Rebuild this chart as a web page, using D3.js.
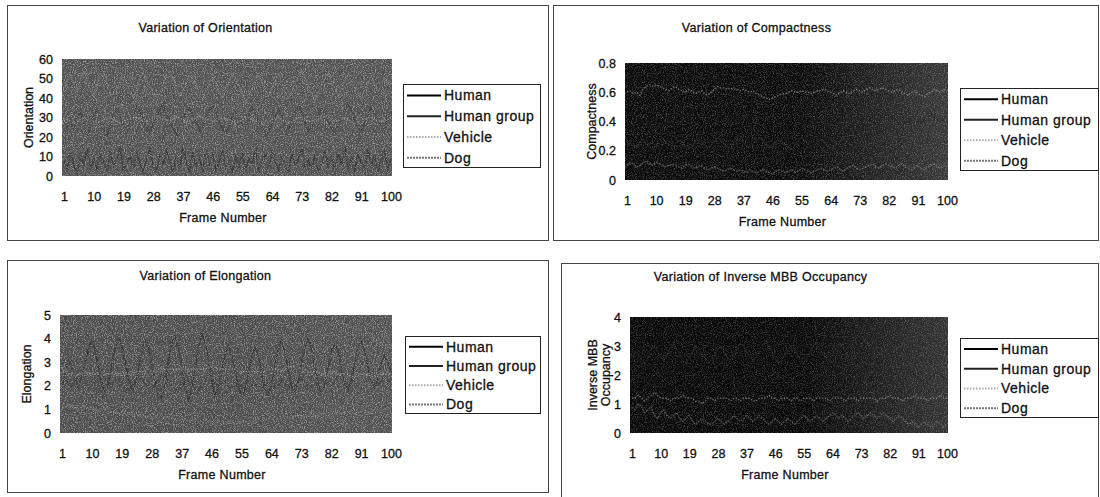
<!DOCTYPE html>
<html>
<head>
<meta charset="utf-8">
<script src="https://cdn.jsdelivr.net/npm/d3@7"></script>
<style>
  body { margin: 0; background: #fff; }
  svg { display: block; font-family: "Liberation Sans", Arial, sans-serif; }
  text { fill: #111; stroke: #111; stroke-width: 0.3px; }
</style>
</head>
<body>
<div id="chart"></div>
<script>
// ---- data ----
const frames = d3.range(1, 101);
const xTickLabels = [1, 10, 19, 28, 37, 46, 55, 64, 73, 82, 91, 100];
const seriesNames = ["Human", "Human group", "Vehicle", "Dog"];

const orientHuman = [8,3,12,5,2,10,6,14,4,9, 3,11,7,2,13,5,8,15,3,6, 10,4,12,7,2,9,14,5,3,11, 6,13,8,2,10,4,15,7,3,12, 5,9,2,14,6,11,3,8,13,4, 7,2,10,5,12,3,9,6,14,2, 8,11,4,13,7,3,10,5,2,12, 6,9,14,3,8,4,11,2,7,13, 5,10,3,12,6,15,4,9,2,11, 7,3,14,5,10,2,8,13,4,9];
const orientGroup = [22,25,28,24,30,33,27,21,26,31, 34,29,24,20,27,32,35,30,26,23, 28,31,36,33,29,25,22,27,30,34, 37,32,28,24,21,26,29,33,35,31, 27,23,25,30,34,36,32,28,24,22, 26,31,33,29,27,24,30,35,32,28, 25,21,23,27,31,34,30,26,24,29, 33,36,32,27,23,25,29,31,35,33, 28,24,22,26,30,34,37,33,29,25, 23,27,31,35,32,28,26,24,30,33];
const orientVehicle = [28,29,28,27,28,29,30,29,28,28, 27,28,29,29,30,29,28,27,28,29, 29,30,30,29,28,28,29,30,31,30, 29,29,28,29,30,30,29,28,28,29, 30,31,30,29,29,28,28,29,30,29, 29,28,27,28,29,30,30,29,28,28, 27,27,28,29,29,30,29,28,27,28, 29,30,30,29,28,28,29,29,30,31, 30,29,28,28,29,30,29,28,27,28, 29,29,30,30,29,28,28,29,29,30];
const orientDog = [45,48,52,47,43,50,54,49,44,41, 46,51,53,48,42,39,44,49,52,47, 43,40,45,50,53,49,46,42,38,43, 47,51,54,50,45,41,44,48,52,49, 46,42,39,44,48,51,47,43,40,45, 49,53,50,46,42,38,41,46,50,52, 48,44,41,45,49,52,48,43,40,44, 47,51,54,50,46,42,39,43,47,50, 53,49,45,41,44,48,52,49,45,42, 40,44,48,51,47,43,46,50,48,45];

const compHuman = [0.42,0.40,0.38,0.41,0.44,0.43,0.40,0.37,0.39,0.42, 0.45,0.43,0.41,0.39,0.40,0.43,0.46,0.44,0.41,0.38, 0.40,0.42,0.44,0.43,0.40,0.38,0.37,0.39,0.42,0.44, 0.45,0.43,0.40,0.38,0.39,0.41,0.43,0.45,0.44,0.42, 0.39,0.37,0.38,0.41,0.43,0.44,0.42,0.40,0.38,0.39, 0.42,0.44,0.46,0.44,0.41,0.39,0.38,0.40,0.42,0.43, 0.41,0.39,0.37,0.38,0.40,0.43,0.45,0.44,0.42,0.40, 0.38,0.39,0.41,0.43,0.44,0.42,0.40,0.39,0.41,0.43, 0.45,0.44,0.42,0.40,0.38,0.37,0.39,0.41,0.43,0.42, 0.40,0.39,0.41,0.43,0.45,0.43,0.41,0.40,0.42,0.44];
const compGroup = [0.25,0.27,0.24,0.22,0.26,0.28,0.25,0.23,0.21,0.24, 0.27,0.29,0.26,0.24,0.22,0.25,0.27,0.26,0.23,0.21, 0.23,0.26,0.28,0.27,0.24,0.22,0.24,0.26,0.29,0.27, 0.25,0.23,0.21,0.24,0.26,0.28,0.26,0.23,0.22,0.25, 0.27,0.29,0.27,0.24,0.22,0.23,0.26,0.28,0.26,0.24, 0.22,0.21,0.24,0.27,0.29,0.27,0.25,0.23,0.24,0.26, 0.28,0.26,0.23,0.21,0.23,0.25,0.27,0.29,0.26,0.24, 0.22,0.24,0.26,0.28,0.27,0.25,0.23,0.21,0.24,0.26, 0.28,0.27,0.25,0.22,0.23,0.26,0.28,0.29,0.26,0.24, 0.22,0.24,0.27,0.28,0.26,0.23,0.22,0.25,0.27,0.26];
const compVehicle = [0.60,0.61,0.59,0.60,0.58,0.62,0.64,0.65,0.64,0.65, 0.64,0.63,0.62,0.61,0.63,0.64,0.62,0.61,0.60,0.62, 0.61,0.59,0.60,0.61,0.59,0.58,0.60,0.62,0.64,0.63, 0.63,0.62,0.63,0.62,0.62,0.61,0.62,0.61,0.60,0.61, 0.59,0.58,0.57,0.56,0.55,0.56,0.57,0.58,0.59,0.59, 0.60,0.61,0.60,0.60,0.61,0.60,0.60,0.59,0.60,0.61, 0.61,0.62,0.61,0.60,0.59,0.58,0.60,0.61,0.60,0.59, 0.61,0.62,0.61,0.60,0.62,0.63,0.62,0.61,0.62,0.63, 0.62,0.61,0.60,0.61,0.62,0.60,0.59,0.58,0.60,0.61, 0.59,0.58,0.57,0.59,0.60,0.62,0.61,0.60,0.62,0.61];
const compDog = [0.10,0.12,0.11,0.09,0.10,0.12,0.13,0.11,0.10,0.12, 0.11,0.10,0.09,0.10,0.11,0.10,0.09,0.08,0.10,0.11, 0.09,0.08,0.09,0.10,0.08,0.07,0.08,0.09,0.08,0.07, 0.06,0.07,0.08,0.07,0.06,0.07,0.06,0.05,0.07,0.06, 0.05,0.06,0.07,0.06,0.05,0.04,0.06,0.07,0.06,0.05, 0.06,0.07,0.05,0.06,0.08,0.07,0.06,0.05,0.06,0.07, 0.08,0.07,0.06,0.07,0.08,0.09,0.07,0.06,0.08,0.09, 0.10,0.08,0.07,0.08,0.09,0.10,0.11,0.09,0.08,0.10, 0.11,0.10,0.09,0.08,0.10,0.11,0.09,0.08,0.07,0.09, 0.10,0.08,0.07,0.09,0.10,0.11,0.09,0.08,0.10,0.09];

const elongHuman = [2.0,2.6,3.1,2.8,2.2,1.9,2.4,3.0,3.6,3.9, 3.5,2.8,2.1,1.7,2.2,2.9,3.6,4.0,3.7,3.0, 2.3,1.8,2.0,2.7,3.4,3.9,3.6,2.9,2.2,1.6, 1.5,2.1,3.0,3.8,4.1,3.7,2.8,1.9,1.4,1.8, 2.7,3.6,4.2,3.9,3.1,2.2,1.6,1.9,2.6,3.3, 3.7,3.4,2.7,2.0,1.6,1.8,2.5,3.2,3.6,3.3, 2.6,1.9,1.6,2.0,2.8,3.5,3.9,3.5,2.7,2.0, 1.7,2.1,2.9,3.6,4.0,3.7,2.9,2.1,1.7,2.0, 2.7,3.4,3.8,3.5,2.8,2.1,1.8,2.2,2.9,3.6, 3.9,3.5,2.8,2.2,1.9,2.3,2.9,3.3,3.0,2.6];
const elongGroup = [2.2,2.3,2.1,2.0,2.2,2.4,2.3,2.1,1.9,2.0, 2.2,2.4,2.5,2.3,2.1,2.0,2.2,2.3,2.1,1.9, 1.8,2.0,2.2,2.4,2.3,2.1,2.0,1.9,2.1,2.3, 2.5,2.4,2.2,2.0,1.8,1.9,2.1,2.3,2.2,2.0, 1.9,1.8,2.0,2.2,2.4,2.3,2.1,2.0,2.1,2.2, 2.0,1.9,2.0,2.1,2.0,1.9,1.8,2.0,2.1,2.0, 1.9,2.0,2.1,2.0,1.9,2.0,2.2,2.1,2.0,1.9, 2.0,2.2,2.3,2.2,2.0,1.9,2.0,2.1,2.3,2.2, 2.1,2.0,2.2,2.4,2.3,2.1,2.0,2.1,2.2,2.0, 1.9,2.1,2.3,2.2,2.1,2.0,2.2,2.4,2.3,2.1];
const elongVehicle = [2.8,2.6,2.5,2.5,2.4,2.5,2.5,2.6,2.5,2.5, 2.5,2.5,2.4,2.5,2.5,2.5,2.5,2.5,2.5,2.6, 2.5,2.5,2.6,2.6,2.6,2.6,2.7,2.6,2.6,2.7, 2.7,2.7,2.7,2.7,2.7,2.7,2.7,2.7,2.7,2.7, 2.7,2.7,2.7,2.7,2.8,2.8,2.8,2.7,2.7,2.7, 2.7,2.7,2.7,2.6,2.6,2.6,2.6,2.6,2.6,2.6, 2.6,2.6,2.7,2.7,2.7,2.7,2.6,2.7,2.8,2.8, 2.8,2.8,2.7,2.7,2.6,2.6,2.6,2.6,2.5,2.5, 2.5,2.6,2.6,2.5,2.5,2.5,2.5,2.4,2.4,2.4, 2.5,2.5,2.5,2.4,2.4,2.4,2.5,2.5,2.5,2.5];
const elongDog = [1.1,1.1,1.2,1.1,1.1,1.0,1.1,1.1,1.0,1.0, 1.0,0.9,1.0,1.0,0.9,0.9,0.9,0.8,0.9,0.8, 0.8,0.8,0.7,0.8,0.7,0.7,0.7,0.6,0.7,0.6, 0.6,0.6,0.7,0.6,0.6,0.5,0.6,0.6,0.5,0.5, 0.6,0.5,0.5,0.6,0.5,0.5,0.4,0.5,0.5,0.4, 0.5,0.5,0.4,0.4,0.5,0.5,0.4,0.5,0.5,0.6, 0.5,0.5,0.6,0.6,0.5,0.6,0.6,0.7,0.6,0.6, 0.7,0.7,0.6,0.7,0.7,0.8,0.7,0.7,0.8,0.8, 0.7,0.8,0.8,0.9,0.8,0.8,0.9,0.9,0.8,0.9, 0.9,1.0,0.9,0.9,1.0,1.0,0.9,1.0,1.0,1.1];

const mbbHuman = [1.8,1.9,2.0,1.9,1.8,1.7,1.9,2.0,2.1,2.0, 1.9,1.8,1.7,1.8,2.0,2.1,2.0,1.9,1.8,1.9, 2.0,2.1,2.2,2.0,1.9,1.8,1.7,1.8,1.9,2.0, 2.1,2.0,1.9,1.8,1.8,1.9,2.0,2.1,2.0,1.9, 1.8,1.7,1.8,1.9,2.0,2.1,2.0,1.9,1.8,1.7, 1.8,1.9,2.0,2.1,2.2,2.0,1.9,1.8,1.9,2.0, 2.0,1.9,1.8,1.7,1.8,1.9,2.1,2.2,2.1,1.9, 1.8,1.9,2.0,2.1,2.0,1.9,1.8,1.7,1.8,2.0, 2.1,2.2,2.1,2.0,1.9,1.8,1.9,2.0,2.1,2.0, 1.9,1.8,1.7,1.8,1.9,2.0,2.1,2.0,1.9,1.8];
const mbbGroup = [2.6,2.8,2.7,2.5,2.4,2.6,2.9,3.0,2.8,2.6, 2.5,2.7,2.9,3.1,2.9,2.7,2.5,2.4,2.6,2.8, 3.0,2.9,2.7,2.6,2.4,2.5,2.7,2.9,3.0,2.8, 2.6,2.5,2.7,2.9,3.1,3.0,2.8,2.6,2.5,2.6, 2.8,3.0,3.2,3.0,2.8,2.6,2.4,2.5,2.7,2.9, 3.0,2.9,2.7,2.5,2.4,2.6,2.8,3.0,3.1,2.9, 2.7,2.6,2.5,2.7,2.9,3.1,3.0,2.8,2.6,2.5, 2.6,2.8,3.0,3.2,3.1,2.9,2.7,2.6,2.8,3.0, 3.1,2.9,2.7,2.6,2.8,3.0,3.3,3.5,3.3,3.1, 2.9,3.2,3.6,3.4,3.1,2.9,3.0,3.3,3.1,2.9];
const mbbVehicle = [1.2,1.2,1.3,1.2,1.1,1.2,1.3,1.4,1.3,1.2, 1.2,1.2,1.1,1.2,1.2,1.2,1.3,1.2,1.2,1.2, 1.1,1.1,1.0,1.1,1.2,1.2,1.1,1.2,1.2,1.2, 1.2,1.1,1.2,1.2,1.1,1.2,1.2,1.2,1.1,1.1, 1.2,1.2,1.2,1.3,1.2,1.2,1.1,1.2,1.2,1.2, 1.1,1.2,1.2,1.1,1.2,1.2,1.2,1.1,1.2,1.2, 1.2,1.2,1.1,1.2,1.2,1.2,1.2,1.1,1.2,1.2, 1.2,1.1,1.2,1.2,1.2,1.2,1.2,1.1,1.2,1.2, 1.2,1.3,1.2,1.2,1.2,1.1,1.2,1.2,1.2,1.3, 1.2,1.2,1.2,1.1,1.2,1.2,1.2,1.3,1.2,1.2];
const mbbDog = [0.9,0.8,1.0,0.9,0.7,0.8,0.9,0.6,0.5,0.7, 0.8,0.6,0.5,0.6,0.7,0.5,0.4,0.5,0.6,0.4, 0.3,0.4,0.5,0.4,0.3,0.3,0.4,0.5,0.4,0.3, 0.4,0.5,0.6,0.5,0.4,0.5,0.6,0.5,0.4,0.5, 0.6,0.5,0.4,0.3,0.4,0.5,0.4,0.3,0.4,0.5, 0.4,0.3,0.4,0.5,0.6,0.5,0.4,0.5,0.6,0.5, 0.4,0.5,0.6,0.7,0.6,0.5,0.6,0.5,0.4,0.5, 0.6,0.7,0.6,0.5,0.6,0.7,0.6,0.5,0.6,0.7, 0.6,0.5,0.4,0.5,0.6,0.5,0.4,0.3,0.4,0.3, 0.2,0.3,0.4,0.3,0.2,0.3,0.4,0.3,0.2,0.3];

// ---- panels (layout + style) ----
const panels = [
  { title: "Variation of Orientation", yLabel: ["Orientation"], max: 60, step: 10,
    series: [orientHuman, orientGroup, orientVehicle, orientDog],
    box: [7, 5, 548, 240], plot: [62, 59, 392, 176], titleY: 32, legend: [403, 84, 540, 167],
    bg: "#505050", bg2: "#505050", noise: 0.4, lineOp: 0.45 },
  { title: "Variation of Compactness", yLabel: ["Compactness"], max: 0.8, step: 0.2,
    series: [compHuman, compGroup, compVehicle, compDog],
    box: [553, 5, 1098, 240], plot: [625, 63, 948, 180], titleY: 32, legend: [960, 88, 1098, 170],
    bg: "#0a0a0a", bg2: "#383838", noise: 0.22, lineOp: 0.5 },
  { title: "Variation of Elongation", yLabel: ["Elongation"], max: 5, step: 1,
    series: [elongHuman, elongGroup, elongVehicle, elongDog],
    box: [7, 260, 548, 492], plot: [60, 315, 392, 433], titleY: 280, legend: [405, 336, 540, 413],
    bg: "#4b4b4b", bg2: "#505050", noise: 0.4, lineOp: 0.45 },
  { title: "Variation of Inverse MBB Occupancy", yLabel: ["Inverse MBB", "Occupancy"], max: 4, step: 1,
    series: [mbbHuman, mbbGroup, mbbVehicle, mbbDog],
    box: [561, 263, 1098, 500], plot: [630, 317, 948, 433], titleY: 281, legend: [960, 338, 1098, 417],
    bg: "#080808", bg2: "#333333", noise: 0.2, lineOp: 0.45 }
];

const lineStyles = [
  { stroke: "#1a1a1a", dash: null, w: 1.5 },
  { stroke: "#2a2a2a", dash: null, w: 1.5 },
  { stroke: "#c4c4c4", dash: "1.5,1.5", w: 1.4 },
  { stroke: "#8a8a8a", dash: "2,1", w: 1.4 }
];
const legendStyles = [
  { stroke: "#000", dash: null },
  { stroke: "#222", dash: null },
  { stroke: "#aaa", dash: "1.5,1.5" },
  { stroke: "#777", dash: "2,1" }
];

const W = 1100, H = 497;
const svg = d3.select("#chart").append("svg").attr("width", W).attr("height", H);
const defs = svg.append("defs");

// speckle texture that imitates the scanned halftone of the plot areas
const f = defs.append("filter").attr("id", "speckle").attr("x", 0).attr("y", 0).attr("width", 1).attr("height", 1);
f.append("feTurbulence").attr("type", "fractalNoise").attr("baseFrequency", 0.9).attr("numOctaves", 2).attr("seed", 4);
f.append("feColorMatrix").attr("type", "matrix")
  .attr("values", "0 0 0 0 1  0 0 0 0 1  0 0 0 0 1  0 0 0 3.5 -1.6");

panels.forEach((p, pi) => {
  const g = svg.append("g");
  const [bx0, by0, bx1, by1] = p.box;
  const [px0, py0, px1, py1] = p.plot;

  g.append("rect").attr("x", bx0 + 0.5).attr("y", by0 + 0.5)
    .attr("width", bx1 - bx0).attr("height", by1 - by0)
    .attr("fill", "#fff").attr("stroke", "#444").attr("stroke-width", 1);

  g.append("text").attr("x", (bx0 + px1) / 2 + 6).attr("y", p.titleY)
    .attr("text-anchor", "middle").attr("font-size", 12.5).attr("letter-spacing", 0.3).text(p.title);

  const x = d3.scalePoint().domain(frames).range([px0 + 2, px1 - 1]);
  const y = d3.scaleLinear().domain([0, p.max]).range([py1, py0]);

  // plot area background
  const gid = "bg" + pi;
  const grad = defs.append("linearGradient").attr("id", gid);
  grad.append("stop").attr("offset", "0%").attr("stop-color", p.bg);
  grad.append("stop").attr("offset", "55%").attr("stop-color", p.bg);
  grad.append("stop").attr("offset", "100%").attr("stop-color", p.bg2);
  g.append("rect").attr("x", px0).attr("y", py0).attr("width", px1 - px0).attr("height", py1 - py0)
    .attr("fill", `url(#${gid})`);

  const line = d3.line().x((d, i) => x(frames[i])).y(d => y(d));
  p.series.forEach((s, si) => {
    const st = lineStyles[si];
    g.append("path").attr("d", line(s)).attr("fill", "none")
      .attr("stroke", st.stroke).attr("stroke-width", st.w)
      .attr("stroke-dasharray", st.dash).attr("opacity", p.lineOp);
  });

  g.append("rect").attr("x", px0).attr("y", py0).attr("width", px1 - px0).attr("height", py1 - py0)
    .attr("filter", "url(#speckle)").attr("opacity", p.noise);

  // y axis
  const yAxis = d3.axisLeft(y).tickValues(d3.range(0, p.max + p.step / 2, p.step))
    .tickSize(0).tickPadding(9).tickFormat(d => +d.toFixed(1));
  const ya = g.append("g").attr("transform", `translate(${px0},0)`).call(yAxis);
  ya.select(".domain").remove();
  ya.selectAll("text").attr("font-size", 12.5).attr("fill", "#111").attr("font-family", null);

  // x axis
  const xAxis = d3.axisBottom(x).tickValues(xTickLabels).tickSize(0).tickPadding(16);
  const xa = g.append("g").attr("transform", `translate(0,${py1})`).call(xAxis);
  xa.select(".domain").remove();
  xa.selectAll("text").attr("font-size", 12.5).attr("fill", "#111").attr("font-family", null);

  g.append("text").attr("x", (px0 + px1) / 2 - 4).attr("y", py1 + 46)
    .attr("text-anchor", "middle").attr("font-size", 12.5).attr("letter-spacing", 0.3).text("Frame Number");

  const ymid = (py0 + py1) / 2;
  const lx = px0 - 29 - (p.yLabel.length - 1) * 4;
  p.yLabel.forEach((t, li) => {
    g.append("text").attr("transform", `translate(${lx + li * 13},${ymid}) rotate(-90)`)
      .attr("text-anchor", "middle").attr("font-size", 12.5).text(t);
  });

  // legend
  const [lx0, ly0, lx1, ly1] = p.legend;
  g.append("rect").attr("x", lx0 + 0.5).attr("y", ly0 + 0.5).attr("width", lx1 - lx0).attr("height", ly1 - ly0)
    .attr("fill", "#fff").attr("stroke", "#222").attr("stroke-width", 1);
  const rowH = (ly1 - ly0) / 4;
  seriesNames.forEach((name, si) => {
    const cy = ly0 + rowH * (si + 0.5) + 1;
    const st = legendStyles[si];
    g.append("line").attr("x1", lx0 + 4).attr("x2", lx0 + 38).attr("y1", cy).attr("y2", cy)
      .attr("stroke", st.stroke).attr("stroke-width", 2).attr("stroke-dasharray", st.dash);
    g.append("text").attr("x", lx0 + 41).attr("y", cy).attr("dy", "0.35em")
      .attr("font-size", 14).attr("letter-spacing", 0.5).text(name);
  });
});
</script>
</body>
</html>
